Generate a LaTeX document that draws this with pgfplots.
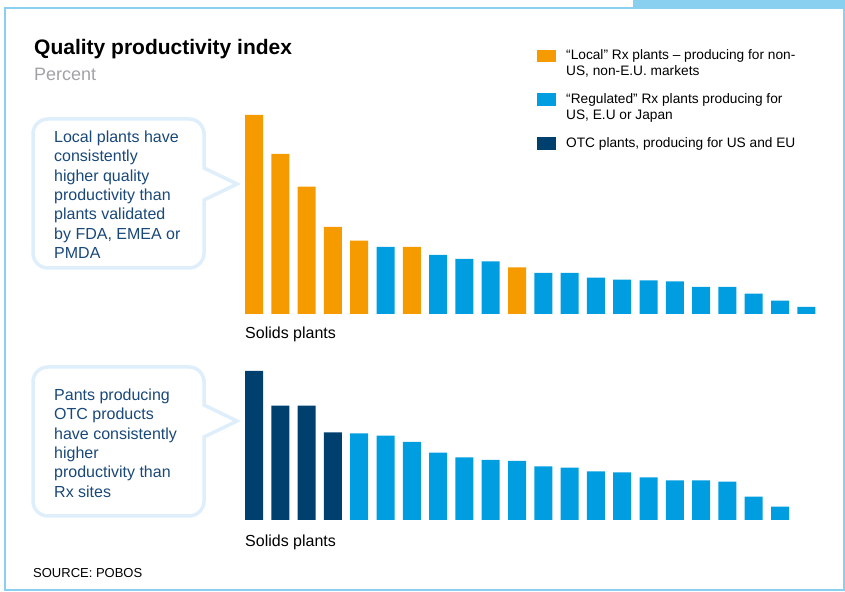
\documentclass[border=0pt]{standalone}
\usepackage{pgfplots}
\pgfplotsset{compat=1.18}
\usepackage{fontspec}
\setmainfont{Liberation Sans}
\definecolor{corange}{RGB}{245,155,0}
\definecolor{cblue}{RGB}{0,158,224}
\definecolor{cnavy}{RGB}{0,64,110}
\definecolor{cframe}{RGB}{137,207,240}
\definecolor{cbord}{RGB}{222,238,251}
\definecolor{ctext}{RGB}{25,72,122}
\definecolor{cgray}{RGB}{160,162,166}
\begin{document}
\begin{tikzpicture}[x=1bp,y=1bp]
\useasboundingbox (0,0) rectangle (845,592);
% frame
\draw[cframe, line width=2bp] (633,584) -- (5,584) -- (5,2) -- (843.5,2) -- (843.5,584);
\fill[cframe] (633,583) rectangle (845,592);
% title
\node[anchor=base west, inner sep=0pt, font=\fontsize{21bp}{25bp}\selectfont\bfseries] at (34,537) {Quality productivity index};
\node[anchor=base west, inner sep=0pt, text=cgray, font=\fontsize{18bp}{22bp}\selectfont] at (34,511) {Percent};
% legend
\fill[corange] (537,530) rectangle (556,542);
\fill[cblue] (537,486) rectangle (556,499);
\fill[cnavy] (537,442) rectangle (556,455);
\begin{scope}[every node/.style={anchor=base west, inner sep=0pt, font=\fontsize{13.7bp}{16bp}\selectfont}]
\node at (566,532.2) {“Local” Rx plants – producing for non-};
\node at (566,516.2) {US, non-E.U. markets};
\node at (566,488.2) {“Regulated” Rx plants producing for};
\node at (566,472.2) {US, E.U or Japan};
\node at (566,444.2) {OTC plants, producing for US and EU};
\end{scope}
% callouts
\draw[cbord, line width=3.5bp, line join=miter] (48,473) -- (189,473) arc[start angle=90,end angle=0,radius=15] -- (204,424) -- (237,408) -- (204,392) -- (204,339) arc[start angle=0,end angle=-90,radius=15] -- (48,324) arc[start angle=270,end angle=180,radius=15] -- (33,458) arc[start angle=180,end angle=90,radius=15] -- cycle;
\draw[cbord, line width=3.5bp, line join=miter] (48,225) -- (189,225) arc[start angle=90,end angle=0,radius=15] -- (204,187) -- (237,171) -- (204,155) -- (204,91) arc[start angle=0,end angle=-90,radius=15] -- (48,76) arc[start angle=270,end angle=180,radius=15] -- (33,210) arc[start angle=180,end angle=90,radius=15] -- cycle;
\begin{scope}[every node/.style={anchor=base west, inner sep=0pt, text=ctext, font=\fontsize{16bp}{19bp}\selectfont}]
\foreach \t [count=\i from 0] in {Local plants have, consistently, higher quality, productivity than, plants validated, {by FDA, EMEA or}, PMDA}
  \node at (54,449.4-19.33*\i) {\t};
\foreach \t [count=\i from 0] in {Pants producing, OTC products, have consistently, higher, productivity than, Rx sites}
  \node at (54,191.4-19.33*\i) {\t};
\end{scope}
% labels
\node[anchor=base west, inner sep=0pt, font=\fontsize{16bp}{19bp}\selectfont] at (245,253.6) {Solids plants};
\node[anchor=base west, inner sep=0pt, font=\fontsize{16bp}{19bp}\selectfont] at (245,45) {Solids plants};
\node[anchor=base west, inner sep=0pt, font=\fontsize{13bp}{16bp}\selectfont] at (33,14) {SOURCE: POBOS};
% top chart
\begin{axis}[at={(240.85bp,278bp)}, anchor=south west, scale only axis,
  width=578.6bp, height=199bp, xmin=0.5, xmax=22.5, ymin=0, ymax=199,
  hide axis, clip=false]
\addplot[ybar, bar width=18bp, bar shift=0pt, fill=corange, draw=none] coordinates {
 (1,199) (2,160) (3,127.3) (4,87) (5,73.3) (7,67) (11,46.5)};
\addplot[ybar, bar width=18bp, bar shift=0pt, fill=cblue, draw=none] coordinates {
 (6,67) (8,59) (9,55) (10,52.6) (12,41) (13,41) (14,36.3) (15,34.3) (16,33.7)
 (17,32.7) (18,27) (19,27) (20,20.3) (21,13.3) (22,7)};
\end{axis}
% bottom chart
\begin{axis}[at={(240.85bp,72bp)}, anchor=south west, scale only axis,
  width=578.6bp, height=149bp, xmin=0.5, xmax=22.5, ymin=0, ymax=149,
  hide axis, clip=false]
\addplot[ybar, bar width=18bp, bar shift=0pt, fill=cnavy, draw=none] coordinates {
 (1,149) (2,114.3) (3,114.3) (4,87.7)};
\addplot[ybar, bar width=18bp, bar shift=0pt, fill=cblue, draw=none] coordinates {
 (5,86.7) (6,84.3) (7,78) (8,67.3) (9,62.7) (10,60) (11,59) (12,53.7) (13,52.3)
 (14,48.7) (15,47.7) (16,42.7) (17,39.7) (18,39.7) (19,38.3) (20,23.3) (21,13.3)};
\end{axis}
\end{tikzpicture}
\end{document}
